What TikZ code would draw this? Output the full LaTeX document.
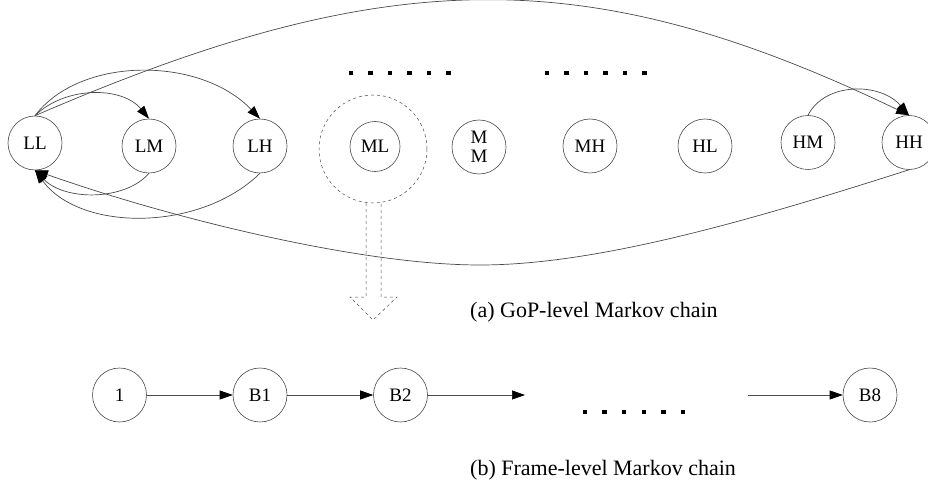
\documentclass[tikz,border=0pt]{standalone}
\usepackage{fontspec}
\setmainfont{Liberation Serif}
\usetikzlibrary{arrows.meta}
\definecolor{edgegray}{HTML}{4A4A4A}
\begin{document}
\begin{tikzpicture}[x=1pt,y=-1pt,
  state/.style={circle,draw=edgegray,line width=0.6pt,minimum size=54pt,inner sep=0pt,
    font=\fontsize{19}{19.5}\selectfont,align=center},
  edge/.style={draw=edgegray,line width=0.7pt,-{Triangle[length=13pt,width=9pt,color=black]}},
  dotsq/.style={fill=black,minimum size=4.5pt,inner sep=0pt},
  caption/.style={anchor=west,inner sep=0pt,font=\fontsize{22}{24}\selectfont}]
\useasboundingbox (0,0) rectangle (928,489);

% GoP-level states
\node[state] (LL) at (35,143) {LL};
\node[state] (LM) at (149,146) {LM};
\node[state] (LH) at (260,146) {LH};
\node[state,minimum size=50pt] (ML) at (375,146.5) {ML};
\node[circle,draw=edgegray,dashed,line width=0.5pt,minimum size=108pt,inner sep=0pt] (MLzoom) at (373,149) {};
\node[state] (MM) at (479,147) {M\\M};
\node[state] (MH) at (590,146) {MH};
\node[state] (HL) at (705,146) {HL};
\node[state] (HM) at (808,142.5) {HM};
\node[state] (HH) at (909,142.5) {HH};

% ellipsis markers
\foreach \i in {0,...,5}{
  \node[dotsq] (da\i) at (351+19.5*\i,73) {};
  \node[dotsq] (db\i) at (547+19.5*\i,73) {};
  \node[dotsq] (dc\i) at (585+19.6*\i,412) {};
}

% transitions out of LL
\draw[edge] (LL.north) .. controls (65,86) and (122,86) .. (LM.north);
\draw[edge] (LL.north) .. controls (80,56) and (200,56) .. (LH.north);
\draw[edge] (LL.north) .. controls (390,-38) and (590,-38) .. (HH.north);
% transitions back to LL
\draw[edge] (LM.south) .. controls (125,201) and (65,201) .. (LL.south);
\draw[edge] (LH.south) .. controls (200,232) and (80,232) .. (LL.south);
\draw[edge] (HH.south) .. controls (758,218) and (600,265) .. (480,265)
                      .. controls (360,265) and (170,218) .. (LL.south);
% HM to HH
\draw[edge] (HM.north) .. controls (825,82) and (880,82) .. (HH.north);

% hollow dashed arrow expanding ML
\draw[draw=edgegray,dashed,line width=0.5pt]
  (366,203) -- (366,297) -- (350,297) -- (373,320) -- (397,297) -- (381,297) -- (381,203);

\node[caption] (capa) at (470,312) {(a) GoP-level Markov chain};

% frame-level chain
\node[state] (F1) at (119.5,395) {1};
\node[state] (B1) at (260,395) {B1};
\node[state] (B2) at (400.5,395) {B2};
\node[state] (B8) at (870,395) {B8};
\coordinate (gapL) at (525,395);
\coordinate (gapR) at (748,395);
\draw[edge] (F1) -- (B1);
\draw[edge] (B1) -- (B2);
\draw[edge] (B2) -- (gapL);
\draw[edge] (gapR) -- (B8);

\node[caption] (capb) at (470,470) {(b) Frame-level Markov chain};
\end{tikzpicture}
\end{document}
